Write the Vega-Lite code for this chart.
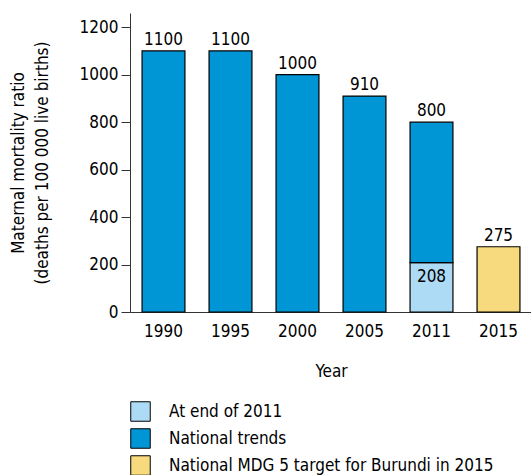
{
  "$schema": "https://vega.github.io/schema/vega-lite/v6.json",
  "width": 402,
  "height": 299,
  "autosize": "none",
  "padding": {"left": 130, "top": 13, "right": 0, "bottom": 163},
  "background": "white",
  "config": {
    "font": "DejaVu Sans Condensed, Liberation Sans, sans-serif",
    "view": {"stroke": null},
    "axis": {"labelFont": "DejaVu Sans Condensed, Liberation Sans, sans-serif", "titleFont": "DejaVu Sans Condensed, Liberation Sans, sans-serif", "labelColor": "black", "titleColor": "black", "domainColor": "#333", "tickColor": "#333", "labelFontSize": 17, "titleFontSize": 17, "titleFontWeight": "normal", "grid": false},
    "legend": {"labelFont": "DejaVu Sans Condensed, Liberation Sans, sans-serif", "labelFontSize": 17, "labelColor": "black", "labelLimit": 400}
  },
  "datasets": {
    "bars": [
      {"year": "1990", "series": "National trends", "value": 1100, "ord": 2},
      {"year": "1995", "series": "National trends", "value": 1100, "ord": 2},
      {"year": "2000", "series": "National trends", "value": 1000, "ord": 2},
      {"year": "2005", "series": "National trends", "value": 910, "ord": 2},
      {"year": "2011", "series": "At end of 2011", "value": 208, "ord": 1},
      {"year": "2011", "series": "National trends", "value": 592, "ord": 2},
      {"year": "2015", "series": "National MDG 5 target for Burundi in 2015", "value": 275, "ord": 2}
    ],
    "labels": [
      {"year": "1990", "pos": 1100, "text": "1100", "where": "top"},
      {"year": "1995", "pos": 1100, "text": "1100", "where": "top"},
      {"year": "2000", "pos": 1000, "text": "1000", "where": "top"},
      {"year": "2005", "pos": 910, "text": "910", "where": "top"},
      {"year": "2011", "pos": 800, "text": "800", "where": "top"},
      {"year": "2011", "pos": 208, "text": "208", "where": "inside"},
      {"year": "2015", "pos": 275, "text": "275", "where": "top"}
    ]
  },
  "layer": [
    {
      "data": {"name": "bars"},
      "mark": {"type": "bar", "stroke": "black", "strokeWidth": 1.2},
      "encoding": {
        "x": {"field": "year", "type": "nominal", "scale": {"paddingInner": 0.36, "paddingOuter": 0.18},
              "axis": {"labelAngle": 0, "ticks": false, "labelPadding": 11, "title": "Year", "titlePadding": 24}},
        "y": {"field": "value", "type": "quantitative", "stack": "zero",
              "scale": {"domain": [0, 1260], "nice": false},
              "axis": {"values": [0, 200, 400, 600, 800, 1000, 1200], "format": "d", "tickSize": 9, "labelPadding": 3,
                       "title": ["Maternal mortality ratio", "(deaths per 100 000 live births)"], "titlePadding": 28, "titleLineHeight": 24}},
        "order": {"field": "ord", "type": "quantitative"},
        "color": {"field": "series", "type": "nominal",
                  "scale": {"domain": ["At end of 2011", "National trends", "National MDG 5 target for Burundi in 2015"],
                            "range": ["#addbf5", "#0095d5", "#f8da7e"]},
                  "legend": {"title": null, "orient": "none", "legendX": 0, "legendY": 388, "symbolType": "square",
                             "symbolSize": 380, "symbolStrokeColor": "black", "symbolStrokeWidth": 1,
                             "rowPadding": 2, "labelOffset": 18}}
      }
    },
    {
      "data": {"name": "labels"},
      "transform": [{"filter": "datum.where === 'top'"}],
      "mark": {"type": "text", "baseline": "alphabetic", "dy": -6, "fontSize": 17, "color": "black"},
      "encoding": {
        "x": {"field": "year", "type": "nominal"},
        "y": {"field": "pos", "type": "quantitative"},
        "text": {"field": "text"}
      }
    },
    {
      "data": {"name": "labels"},
      "transform": [{"filter": "datum.where === 'inside'"}],
      "mark": {"type": "text", "baseline": "top", "dy": 6, "fontSize": 17, "color": "black"},
      "encoding": {
        "x": {"field": "year", "type": "nominal"},
        "y": {"field": "pos", "type": "quantitative"},
        "text": {"field": "text"}
      }
    }
  ]
}
